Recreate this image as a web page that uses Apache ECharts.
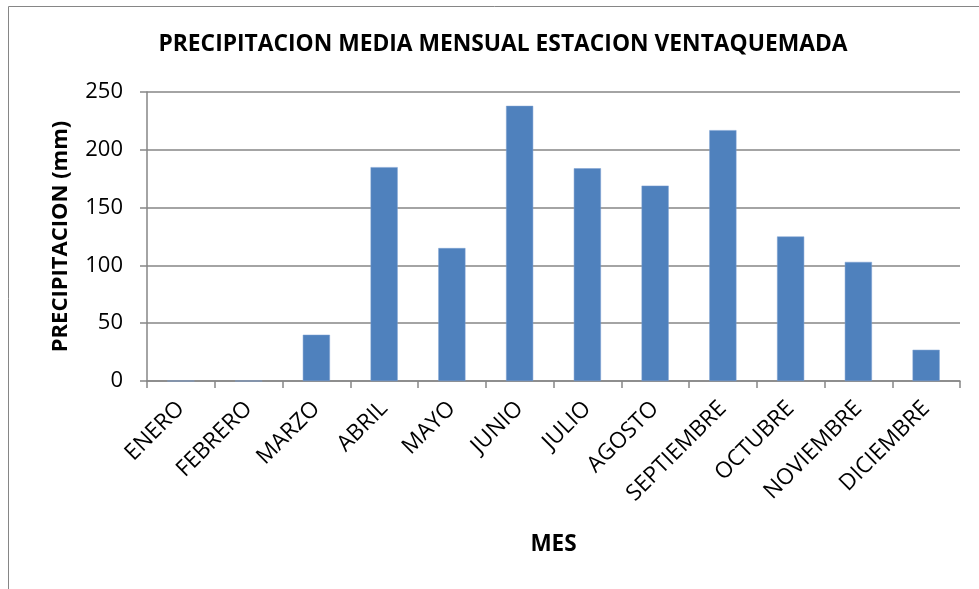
<html>
<head>
<meta charset="UTF-8">
<script src="https://cdn.jsdelivr.net/npm/echarts@6/dist/echarts.min.js"></script>
<style type="text/css">
body{margin:0;background:#fff;}
#chart{width:979px;height:589px;}
</style>
</head>
<body>
<div id="chart"></div>
<script type="text/javascript">
var meses=["ENERO","FEBRERO","MARZO","ABRIL","MAYO","JUNIO","JULIO","AGOSTO","SEPTIEMBRE","OCTUBRE","NOVIEMBRE","DICIEMBRE"];
var precipitacion=[0,0,40,185,115,238,184,169,217,125,103,27];//mm
var titulo="PRECIPITACION MEDIA MENSUAL ESTACION VENTAQUEMADA";
var fuente="Open Sans";

var myChart=echarts.init(document.getElementById("chart"));
var option={
  animation:false,
  title:{
    text:titulo,left:498,top:28,textAlign:"center",
    textStyle:{fontFamily:fuente,fontSize:22.8,fontWeight:"bold",color:"#000"}
  },
  graphic:[{type:"rect",shape:{x:8.5,y:6.5,width:1200,height:1000},style:{fill:null,stroke:"#868686",lineWidth:1},silent:true}],
  grid:{left:147,right:19,top:92,bottom:208,containLabel:false},
  xAxis:{
    type:"category",data:meses,
    name:"MES",nameLocation:"middle",nameGap:152,
    nameTextStyle:{fontFamily:fuente,fontSize:22.5,fontWeight:"bold",color:"#000"},
    axisLine:{lineStyle:{color:"#868686",width:1.5}},
    axisTick:{show:true,length:7,lineStyle:{color:"#868686",width:1.5}},
    axisLabel:{rotate:45,interval:0,margin:24,fontFamily:fuente,fontSize:22.5,color:"#000"}
  },
  yAxis:{
    type:"value",min:0,max:250,interval:50,
    name:"PRECIPITACION (mm)",nameLocation:"middle",nameGap:75,
    nameTextStyle:{fontFamily:fuente,fontSize:22,fontWeight:"bold",color:"#000"},
    axisLine:{show:true,lineStyle:{color:"#868686",width:1.5}},
    axisTick:{show:true,length:7,lineStyle:{color:"#868686",width:1.5}},
    axisLabel:{margin:24,fontFamily:fuente,fontSize:22,color:"#000"},
    splitLine:{lineStyle:{color:"#868686",width:1.5}}
  },
  series:[{type:"bar",data:precipitacion,barWidth:"40%",itemStyle:{color:"#4f81bd",borderColor:"#7a9fd0",borderWidth:0.5}}]
};
myChart.setOption(option);
</script>
</body>
</html>
